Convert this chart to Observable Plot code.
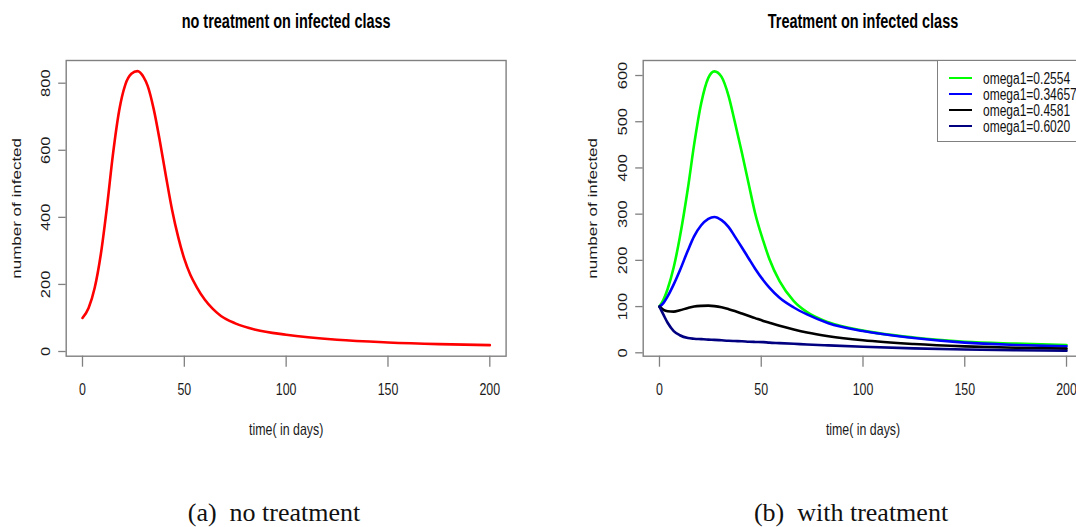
<!DOCTYPE html>
<html>
<head>
<meta charset="utf-8">
<script src="https://cdn.jsdelivr.net/npm/d3@7"></script>
<script src="https://cdn.jsdelivr.net/npm/@observablehq/plot@0.6"></script>
<style>
  html, body { margin: 0; padding: 0; background: #fff; }
  #wrap { position: relative; width: 1076px; height: 527px; overflow: hidden; background: #fff; font-family: "Liberation Sans", Arial, sans-serif; }
  #left, #right { position: absolute; top: 0; }
  #left { left: 0; width: 540px; }
  #right { left: 540px; width: 560px; }
  #left svg, #right svg { max-width: none !important; display: block; }
  .cap { position: absolute; top: 500px; font-family: "Liberation Serif", "Times New Roman", serif; font-size: 26px; line-height: 26px; white-space: pre; color: #111; transform: translateX(-50%); }
  #legend { position: absolute; left: 937.3px; top: 60px; width: 160px; height: 81.5px; border: 1.4px solid #808080; background: #fff; box-sizing: border-box; }
  .lrow { position: absolute; left: 0; height: 16px; }
  .lsw { position: absolute; left: 10.5px; width: 23px; height: 0; border-top: 2.6px solid; }
  .ltx { position: absolute; left: 44.5px; font-size: 16px; line-height: 16px; white-space: nowrap; transform: scaleX(0.75); transform-origin: 0 50%; color: #111; }
</style>
</head>
<body>
<div id="wrap">
  <div id="left"></div>
  <div id="right"></div>
  <div id="legend"></div>
  <div class="cap" id="capA" style="left:274px"></div>
  <div class="cap" id="capB" style="left:851px"></div>
</div>
<script>
// ---------- data ----------
const xTicks = [0, 50, 100, 150, 200];
const yTicksA = [0, 200, 400, 600, 800];
const yTicksB = [0, 100, 200, 300, 400, 500, 600];

const titleA = "no treatment on infected class";
const titleB = "Treatment on infected class";
const xLabel = "time( in days)";
const yLabel = "number of infected";
const captionA = "(a)  no treatment";
const captionB = "(b)  with treatment";

// panel (a): no treatment
const daysA     = [0,   3,   6,   9,   12,  15,  18,  21,  24,  27,  30,  32,  35,  38,  41,  44,  47,  50,  53,  56,  60,  64,  68,  75, 85, 100, 125, 150, 175, 200];
const infectedA = [100, 130, 190, 290, 430, 590, 718, 795, 828, 836, 818, 792, 722, 627, 522, 422, 341, 276, 228, 193, 155, 127, 106, 84, 65, 50,  35,  27,  22,  19];

// panel (b): with treatment
const daysB      = [0,   2,   4,   7,   10,  14,  17,  20.5, 24,  27,  30.5, 34,  37,  40.5, 44,  47,  51,  54,  59,  66,  72.5, 83, 100, 125, 150, 175, 200];
const omega2554  = [100, 115, 138, 185, 250, 357, 450, 540,  595, 609, 597,  555, 500, 433,  362, 302, 242, 203, 155, 112, 88,   66, 48,  33,  24,  20,  17];
const omega34657 = [100, 108, 122, 148, 178, 222, 252, 276,  290, 294, 287,  272, 252, 228,  203, 182, 157, 141, 119, 98,  83,   64, 47,  32,  22,  17,  14];
const omega4581  = [100, 93,  90,  89,  92,  97,  100, 101.5,102, 101, 98.5, 94.5,90.5,85,   79.5,75,  69,  65,  58.5,50.5,44,   36, 27,  19,  14,  11,  9];
const omega6020  = [100, 82,  65,  47,  38,  32,  30.5,29.5, 28.5,28,  27,   26,  25.5,25,   24,  23.5,23,  22,  21,  19.5,18,   16, 13,  9.5, 7,   5.5, 4.5];

const seriesLabels = ["omega1=0.2554", "omega1=0.34657", "omega1=0.4581", "omega1=0.6020"];
const seriesColors = ["#00ff00", "#0000ff", "#000000", "#000080"];
const seriesValues = [omega2554, omega34657, omega4581, omega6020];

// ---------- helpers ----------
const S = 0.75; // horizontal squeeze of the R device text
const FONT = "'Liberation Sans', Arial, sans-serif";

function squeeze(svg) {
  svg.querySelectorAll("text").forEach(t => {
    const tr = t.getAttribute("transform");
    if (tr && /^translate\(/.test(tr)) {
      t.setAttribute("transform", tr.replace(/^(translate\([^)]*\))/, `$1 scale(${S},1)`));
    } else {
      const x = +(t.getAttribute("x") || 0), y = +(t.getAttribute("y") || 0);
      t.setAttribute("transform", `translate(${x},${y}) scale(${S},1) translate(${-x},${-y})` + (tr ? " " + tr : ""));
    }
  });
}

function commonMarks(title, yTicks) {
  return [
    Plot.frame({stroke: "#808080", strokeWidth: 1.4}),
    Plot.axisX({ticks: xTicks, tickSize: 11, tickFormat: () => "", stroke: "#808080", strokeWidth: 1.3, label: null}),
    Plot.axisY({ticks: yTicks, tickSize: 7.5, tickFormat: () => "", stroke: "#808080", strokeWidth: 1.3, label: null}),
    Plot.text(xTicks, {x: d => d, frameAnchor: "bottom", dy: 38.3, lineAnchor: "bottom", text: d => String(d), fontSize: 16.5, fill: "#1a1a1a"}),
    Plot.text(yTicks, {y: d => d, frameAnchor: "left", dx: -16.4, rotate: -90, textAnchor: "middle", lineAnchor: "bottom", text: d => String(d), fontSize: 16.5, fill: "#1a1a1a"}),
    Plot.text([xLabel], {frameAnchor: "bottom", dy: 78.3, lineAnchor: "bottom", text: d => d, fontSize: 16.5, fill: "#1a1a1a"}),
    Plot.text([title], {frameAnchor: "top", dy: -33, lineAnchor: "bottom", text: d => d, fontSize: 19.3, fontWeight: "bold", fill: "#000"})
  ];
}

// ---------- panel (a) ----------
const dataA = daysA.map((t, i) => ({t, v: infectedA[i]}));
const plotA = Plot.plot({
  width: 540, height: 460,
  marginLeft: 65.7, marginRight: 34.4, marginTop: 60, marginBottom: 104.3,
  style: {fontFamily: FONT, background: "#fff", overflow: "visible", maxWidth: "none"},
  x: {domain: [-8, 208]},
  y: {domain: [-14.0, 867.7]},
  marks: [
    ...commonMarks(titleA, yTicksA),
    Plot.text([yLabel], {frameAnchor: "left", dx: -45.5, rotate: -90, textAnchor: "middle", lineAnchor: "bottom", text: d => d, fontSize: 17, fill: "#1a1a1a"}),
    Plot.line(dataA, {x: "t", y: "v", stroke: "#ff0000", strokeWidth: 2.6, curve: "monotone-x"})
  ]
});
squeeze(plotA);
document.getElementById("left").appendChild(plotA);

// ---------- panel (b) ----------
const linesB = seriesValues.map((vals, k) =>
  Plot.line(daysB.map((t, i) => ({t, v: vals[i]})), {x: "t", y: "v", stroke: seriesColors[k], strokeWidth: 2.6, curve: "monotone-x"})
);
const plotB = Plot.plot({
  width: 560, height: 460,
  marginLeft: 102.7, marginRight: 17.7, marginTop: 60, marginBottom: 104.3,
  style: {fontFamily: FONT, background: "#fff", overflow: "visible", maxWidth: "none"},
  x: {domain: [-8, 208]},
  y: {domain: [-7.36, 632.5]},
  marks: [
    ...commonMarks(titleB, yTicksB),
    Plot.text([yLabel], {frameAnchor: "left", dx: -46.5, rotate: -90, textAnchor: "middle", lineAnchor: "bottom", text: d => d, fontSize: 17, fill: "#1a1a1a"}),
    ...linesB
  ]
});
squeeze(plotB);
document.getElementById("right").appendChild(plotB);

// ---------- legend ----------
const legend = d3.select("#legend");
seriesLabels.forEach((lab, k) => {
  const row = legend.append("div").attr("class", "lrow").style("top", (9.5 + 16 * k) + "px").style("width", "100%");
  row.append("div").attr("class", "lsw").style("border-top-color", seriesColors[k]).style("top", "6.7px");
  row.append("div").attr("class", "ltx").style("top", "0px").text(lab);
});

// ---------- captions ----------
document.getElementById("capA").textContent = captionA;
document.getElementById("capB").textContent = captionB;
</script>
</body>
</html>
